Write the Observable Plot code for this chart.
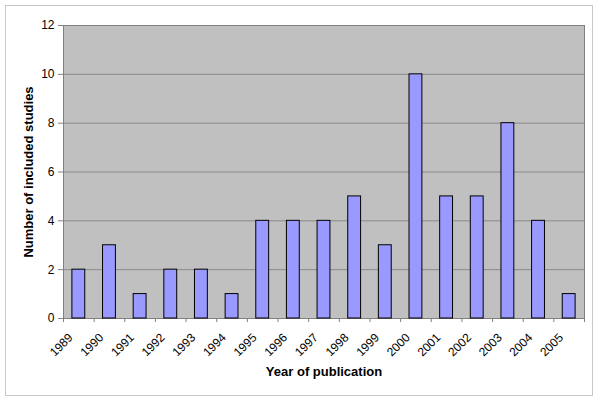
<!DOCTYPE html>
<html>
<head>
<meta charset="utf-8">
<script src="https://cdn.jsdelivr.net/npm/d3@7"></script>
<script src="https://cdn.jsdelivr.net/npm/@observablehq/plot@0.6"></script>
<style>
  html, body { margin: 0; padding: 0; background: #fff; }
  #chart svg { display: block; }
</style>
</head>
<body>
<div id="chart"></div>
<script>
const years = ["1989","1990","1991","1992","1993","1994","1995","1996","1997","1998","1999","2000","2001","2002","2003","2004","2005"];
const counts = [2,3,1,2,2,1,4,4,4,5,3,10,5,5,8,4,1];
const yTicks = [0,2,4,6,8,10,12];
const xTitle = "Year of publication";
const yTitle = "Number of included studies";

const data = years.map((y, i) => ({year: y, n: counts[i]}));

const W = 600, H = 403, mL = 63, mR = 16, mT = 25, mB = 85;
const halfBand = (W - mL - mR) / years.length / 2;

const plot = Plot.plot({
  width: W, height: H,
  marginLeft: mL, marginRight: mR, marginTop: mT, marginBottom: mB,
  style: {fontFamily: "Arial, 'Liberation Sans', sans-serif", fontSize: "12px", color: "#000", background: "#fff"},
  x: {type: "band", domain: years, paddingInner: 0.58, paddingOuter: 0.29, align: 0.5, round: false},
  y: {domain: [0, 12]},
  marks: [
    Plot.frame({fill: "#C0C0C0", stroke: null}),
    Plot.gridY(yTicks, {stroke: "#8a8a8a", strokeOpacity: 1}),
    Plot.frame({stroke: "#808080"}),
    Plot.barY(data, {x: "year", y: "n", fill: "#9999FF", stroke: "#000", strokeWidth: 1}),
    Plot.axisY(yTicks, {tickSize: 5, tickPadding: 4, label: null, stroke: "#808080", fontSize: 12}),
    Plot.axisX({tickSize: 4, tickFormat: null, dx: -halfBand, label: null, stroke: "#808080"}),
    Plot.axisX([years[years.length - 1]], {tickSize: 4, tickFormat: null, dx: halfBand, label: null, stroke: "#808080"}),
    Plot.axisX({tickSize: 0, tickRotate: -45, tickPadding: 10, label: null, fontSize: 12, dx: -8, dy: 7}),
    Plot.text([yTitle], {frameAnchor: "left", dx: -35, rotate: -90, textAnchor: "middle", fontWeight: "bold", fontSize: 13}),
    Plot.text([xTitle], {frameAnchor: "bottom", dy: 57, textAnchor: "middle", fontWeight: "bold", fontSize: 13})
  ]
});

d3.select(plot).append("rect")
  .attr("x", 5.5).attr("y", 5.5).attr("width", 587).attr("height", 390)
  .attr("fill", "none").attr("stroke", "#C8C8C8").attr("stroke-width", 1);

document.getElementById("chart").append(plot);
</script>
</body>
</html>
